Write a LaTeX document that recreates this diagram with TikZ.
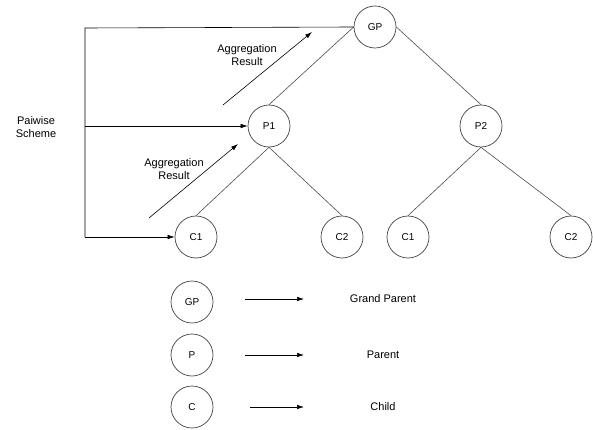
\documentclass[tikz,border=0pt]{standalone}
\usepackage{fontspec}
\setmainfont{Liberation Sans}
\usetikzlibrary{arrows.meta}
\begin{document}
\begin{tikzpicture}[x=1pt,y=-1pt,
  every node/.style={font=\fontsize{11}{13.5}\selectfont},
  nd/.style={circle,draw=black!75,line width=0.7pt,minimum size=42pt,inner sep=0pt,font=\fontsize{10}{12}\selectfont},
  edge/.style={draw=black!70,line width=0.6pt},
  arr/.style={draw=black,line width=0.6pt,-{Latex[length=7pt,width=4.5pt]}},
  lbl/.style={align=center,inner sep=0pt}]
\useasboundingbox (0,0) rectangle (593,430);
% tree nodes
\node[nd] (GP) at (375,27) {GP};
\node[nd] (P1) at (269,126) {P1};
\node[nd] (P2) at (481,126) {P2};
\node[nd] (C1a) at (196,237) {C1};
\node[nd] (C2a) at (342,237) {C2};
\node[nd] (C1b) at (408,237) {C1};
\node[nd] (C2b) at (571,237) {C2};
% tree edges
\draw[edge] (GP.west) -- (P1.north);
\draw[edge] (GP.east) -- (P2.north);
\draw[edge] (P1.south) -- (C1a.north);
\draw[edge] (P1.south) -- (C2a.north);
\draw[edge] (P2.south) -- (C1b.north);
\draw[edge] (P2.south) -- (C2b.north);
% pairwise scheme
\node[lbl] (pw) at (36,127) {Paiwise\\Scheme};
\coordinate (top) at (85,28);
\coordinate (mid) at (85,126);
\coordinate (bot) at (85,237);
\draw[line width=0.6pt] (GP.west) -- (top) -- (bot);
\draw[arr] (mid) -- (P1.west);
\draw[arr] (bot) -- (C1a.west);
% aggregation results
\coordinate (a1s) at (223,105);
\coordinate (a1e) at (312,32);
\coordinate (a2s) at (149,218);
\coordinate (a2e) at (238,144);
\draw[arr] (a1s) -- (a1e);
\draw[arr] (a2s) -- (a2e);
\node[lbl] (ag1) at (247,55) {Aggregation\\Result};
\node[lbl] (ag2) at (174,169) {Aggregation\\Result};
% legend
\node[nd] (LGP) at (192,302) {GP};
\node[nd] (LP) at (192,355) {P};
\node[nd] (LC) at (192,407) {C};
\node[inner sep=0pt] (tGP) at (383,299) {Grand Parent};
\node[inner sep=0pt] (tP) at (383,355) {Parent};
\node[inner sep=0pt] (tC) at (383,407) {Child};
\coordinate (g1) at (245,299); \coordinate (g2) at (304,299);
\coordinate (p1) at (245,355); \coordinate (p2) at (304,355);
\coordinate (c1) at (250,407); \coordinate (c2) at (304,407);
\draw[arr] (g1) -- (g2);
\draw[arr] (p1) -- (p2);
\draw[arr] (c1) -- (c2);
\end{tikzpicture}
\end{document}
